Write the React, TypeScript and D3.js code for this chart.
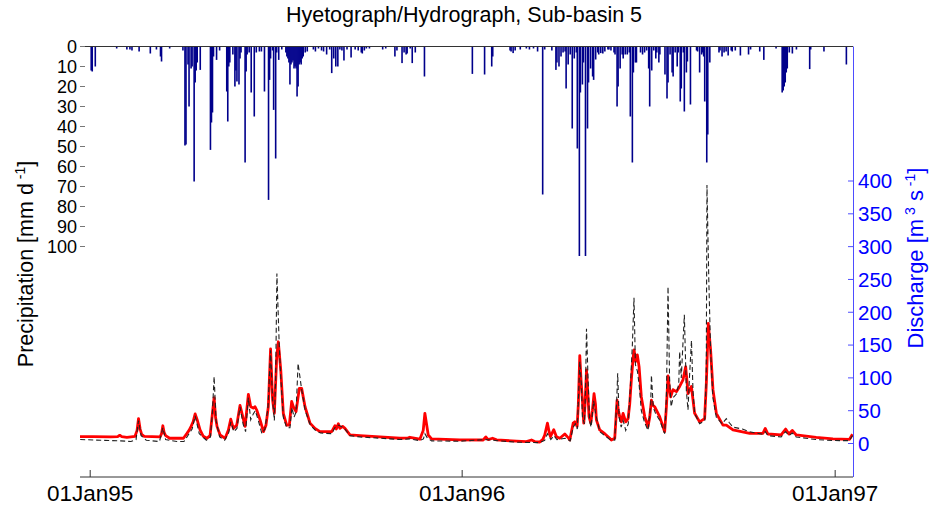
import React from "react";
import * as d3 from "d3";

// ---------- DATA (days since 01Jan95) ----------
const titleText = "Hyetograph/Hydrograph, Sub-basin 5";
const xTickDays = [0, 365, 731];
const xTickLabels = ["01Jan95", "01Jan96", "01Jan97"];
const precipTicks = [0, 10, 20, 30, 40, 50, 60, 70, 80, 90, 100];
const dischargeTicks = [0, 50, 100, 150, 200, 250, 300, 350, 400];

// daily precipitation [day, mm]
const precipEvents: [number, number][] = [
  [1, 12], [2, 12.5], [5, 10], [26, 1], [36, 1.5], [39, 1.5], [41, 2], [48, 2.5], [59, 3.5],
  [65, 1.5], [69, 5], [70, 7.5], [78, 1], [91, 2], [93, 49.5], [94, 49], [96, 9], [97, 30],
  [99, 11], [100, 10], [102, 67.5], [103, 18], [104, 12], [105, 8], [108, 11.7], [118, 51.7],
  [119, 38], [120, 33], [121, 5], [124, 6.7], [127, 2], [134, 22.5], [135, 37.5], [136, 10],
  [137, 8], [140, 4], [142, 20], [143, 12], [144, 17.5], [146, 19], [147, 6], [148, 3],
  [152, 58], [153, 12.5], [154, 4], [156, 3], [158, 23], [161, 35], [163, 3], [166, 2.5],
  [168, 2.5], [171, 22.5], [175, 76.7], [176, 16.7], [177, 6], [179, 2], [180, 31.7],
  [182, 56], [183, 3], [185, 6.7], [188, 1.5], [192, 3], [193, 5], [194, 6], [195, 8],
  [196, 19], [197, 9], [198, 8], [199, 7], [200, 11], [201, 10], [202, 11], [203, 25],
  [204, 20], [205, 9], [206, 8], [207, 9], [208, 6], [209, 5], [211, 3], [213, 2.5],
  [219, 1.5], [221, 2.5], [224, 1], [227, 2], [229, 2.5], [232, 4], [235, 1.5], [237, 13.3],
  [239, 6], [241, 10], [243, 10], [245, 1.5], [247, 2], [249, 7], [252, 1.5], [256, 5.5],
  [260, 1.5], [263, 2], [266, 3], [267, 3.5], [269, 2], [271, 1], [274, 1], [287, 1.5],
  [290, 1], [299, 5], [301, 2], [306, 8.3], [308, 3], [310, 4], [311, 3.5], [314, 1],
  [316, 8.3], [319, 3], [328, 15], [375, 13.7], [387, 14], [394, 10], [395, 5], [412, 2],
  [413, 2.5], [415, 3.3], [417, 2], [422, 1.5], [428, 1], [431, 1.5], [435, 1], [439, 2.5],
  [444, 74], [446, 1.5], [453, 2], [457, 11.7], [458, 8], [460, 10], [462, 5], [464, 3],
  [466, 2.5], [467, 21], [469, 9], [471, 4], [473, 41], [475, 6], [477, 3], [478, 51],
  [480, 105], [481, 23], [483, 19], [484, 8], [486, 105], [488, 41], [489, 18], [491, 11],
  [493, 15], [494, 16.7], [496, 6.5], [498, 3], [499, 4], [501, 3.3], [503, 3.5], [505, 2.5],
  [508, 1.5], [509, 1.5], [511, 2], [514, 3], [515, 4], [517, 30], [518, 20], [520, 11],
  [522, 4], [523, 6], [525, 4], [527, 4], [529, 3], [530, 35], [532, 58], [533, 13],
  [535, 8], [536, 8], [540, 3], [542, 4], [544, 3], [546, 2], [548, 11], [549, 30],
  [551, 12], [553, 2], [555, 6], [556, 3], [558, 8], [559, 4], [564, 14], [566, 26],
  [567, 18], [569, 4], [571, 13], [572, 15], [574, 3], [576, 10], [577, 3], [579, 27.5],
  [580, 21], [582, 3], [583, 32.5], [585, 13], [586, 7.5], [589, 29], [595, 2], [596, 2.5],
  [598, 13], [600, 4], [601, 3], [602, 5], [603, 27.5], [605, 58], [606, 44], [608, 8],
  [617, 3], [618, 2], [620, 5], [622, 3], [624, 2.5], [626, 4.5], [629, 2], [630, 2.5],
  [633, 2], [638, 4.5], [646, 4], [648, 1.5], [657, 2.5], [661, 6.7], [673, 1], [679, 23],
  [680, 22], [681, 20], [682, 18], [683, 13], [684, 11], [686, 3], [689, 3.5], [693, 1.5],
  [706, 11.3], [707, 1.5], [720, 2.5], [742, 9]
];

// simulated discharge [day, m3/s]
const simulatedQ: [number, number][] = [
  [-10, 10.4], [3, 10.4], [20, 10], [27, 10.5], [29, 12.5], [31, 10.5], [36, 9.5], [44, 11],
  [46, 20], [47.4, 38], [49, 22], [50.5, 14], [53, 11], [68.6, 10], [70, 15], [71.3, 27],
  [72.5, 17], [74, 12], [78, 8], [91.5, 8], [94.8, 15], [97, 20], [99, 26], [101, 33],
  [103, 45], [105.2, 35], [107.8, 20.6], [111, 11], [114.4, 7.9], [117.6, 12], [119.9, 45],
  [121.6, 70], [123, 40], [124.5, 25.7], [127.5, 13], [132.4, 7.9], [135.6, 20.6],
  [137.9, 37], [140.5, 23], [143.8, 28], [147, 58], [149.7, 41], [152, 26], [155.2, 75],
  [157.5, 56], [160, 54], [161.8, 56], [163.4, 51], [166.7, 36], [170, 18], [172.5, 28],
  [174.8, 56], [177, 144], [179, 66], [180.7, 46], [183, 132], [184.6, 155], [187, 112],
  [189.5, 46], [192.8, 28], [195.4, 28], [197.7, 64], [199.3, 56], [202, 48.5], [205.2, 84],
  [207.5, 84], [210.8, 56], [215.7, 31], [220.6, 23], [225.5, 18], [237, 18], [240.2, 27],
  [241.5, 22], [243.5, 30], [245, 23], [247.7, 26], [250, 23], [254.9, 13], [264.7, 11.9],
  [284.3, 10], [304, 8], [312, 8.5], [313.7, 9.5], [323.5, 6.5], [326.8, 20], [328.4, 46],
  [330, 30], [331.7, 13], [335, 7], [362.7, 5.5], [385.6, 5.3], [388.2, 10], [390.5, 6],
  [394.8, 8], [398.7, 5.5], [418.3, 3.5], [428, 2.8], [433, 5.3], [436.3, 3], [441.2, 2.3],
  [444.4, 7], [446, 13], [448.7, 31], [450.3, 18], [451.6, 10.4], [454.9, 21], [457.5, 10.4],
  [460.8, 7.9], [465.7, 14.5], [469, 9], [470.6, 5.3], [473.9, 31], [475.5, 33],
  [477.8, 26], [479, 60], [480.4, 134], [481.7, 95], [483, 66], [484.3, 31], [485.6, 60],
  [487, 112], [488.2, 80], [489.5, 41], [491.2, 31], [492.8, 50], [494.4, 76], [495.8, 60],
  [496.7, 36], [500, 20.6], [504.9, 15], [509.8, 7.9], [511.4, 5.3], [514.7, 7.9],
  [517, 66], [518.3, 50], [519.6, 41], [521.2, 33], [522.9, 46], [525.5, 33], [527.8, 38],
  [529.4, 60], [531, 97], [532.7, 130], [533.7, 142.5], [535.3, 125], [536.9, 135],
  [538.6, 117], [540.8, 71], [544.1, 41], [547.4, 26], [549, 40], [550.7, 66], [552.3, 58],
  [553.9, 56], [558.8, 41], [563.7, 18], [565.4, 56], [567, 103], [568.3, 85], [569.6, 71],
  [571.9, 82], [575.2, 79], [578.4, 87], [581.7, 97], [584.3, 117], [585.6, 95],
  [586.6, 76], [588.2, 82], [589.9, 87], [593.1, 46], [598, 33], [602.9, 38], [604.6, 92],
  [606.5, 183], [607.8, 160], [608.8, 142], [611.1, 82], [614.4, 46], [620.9, 28],
  [624.2, 28], [630.7, 20.6], [647.1, 15.5], [660.1, 15.5], [662.4, 23], [665, 14.5],
  [678, 13], [682.4, 22], [685.6, 14.5], [688.9, 20], [692.8, 13], [712.4, 9.4],
  [728.8, 7], [745.1, 6.4], [748, 14]
];

// observed discharge [day, m3/s]
const observedQ: [number, number][] = [
  [-9.8, 6], [10, 5], [30, 4], [40, 3], [45, 6], [47.4, 35], [50, 12], [55, 5], [68, 3],
  [71.3, 24], [74, 6], [85, 3], [92, 3], [95, 10], [100, 22], [103, 42], [107, 15],
  [114, 5], [118, 10], [120, 50], [121.6, 102], [123.5, 35], [127, 10], [132, 5], [136, 17],
  [138, 33], [141, 18], [144, 23], [147, 56], [150, 30], [152.5, 18], [155.2, 70],
  [157.5, 36], [160, 45], [162, 50], [165, 35], [168.5, 15], [171.5, 22], [174.5, 55],
  [177, 142], [179, 66], [180.7, 35], [182, 100], [183.2, 259], [185.5, 150], [187, 100],
  [189.5, 40], [192.8, 24], [196, 24], [198, 55], [200, 40], [202, 48], [204, 122],
  [207.5, 82], [211, 50], [216, 28], [221, 20], [226, 16], [237, 15], [240, 24],
  [243.5, 28], [247.7, 25], [250, 22], [255, 12], [264.7, 10], [285, 8], [304, 6], [313, 7],
  [323, 4.5], [327, 7], [328.4, 15], [331, 8], [335, 4], [363, 3.5], [388, 6], [395, 5],
  [418, 2], [441, 1.3], [446, 5], [448.7, 15], [452, 6], [455, 12], [458, 6], [466, 8],
  [471, 4], [474, 25], [476, 30], [478, 22], [480.4, 125], [482, 90], [483, 40], [485, 30],
  [486, 80], [487, 175], [488.5, 100], [490, 35], [491.5, 25], [494, 65], [496, 45],
  [500, 18], [505, 12], [510, 6], [514.7, 5], [516.5, 60], [517.6, 107], [519, 40],
  [521, 25], [523, 35], [525.5, 20], [528, 30], [530, 85], [532, 150], [533.6, 222],
  [535, 120], [537, 110], [538.6, 90], [540.8, 50], [544, 32], [547.4, 20], [550, 60],
  [550.7, 104], [552.5, 55], [555, 45], [559, 35], [563.7, 15], [565.4, 70], [567, 239],
  [568.5, 100], [570, 56], [572, 70], [575, 75], [577.5, 90], [578.4, 140], [580, 100],
  [583, 196], [585, 80], [586.6, 51], [588, 100], [590, 157], [591.5, 80], [593.1, 46],
  [598, 30], [603, 35], [604.5, 100], [605.2, 394], [607, 250], [608.8, 140], [611, 70],
  [614.4, 40], [620, 30], [624.2, 38], [627, 32], [630.7, 25], [640, 22], [647, 18],
  [660, 14], [662.4, 18], [665, 12], [678, 10], [682.4, 18], [685.6, 12], [688.9, 16],
  [692.8, 10], [712, 6], [729, 4.5], [745, 4.3], [748, 12]
];

// ---------- LAYOUT ----------
const W = 935;
const H = 509;
const left = 80;
const right = 853;
const top = 46.5;
const bottom = 477;
const FONT = "'Liberation Sans', Arial, Helvetica, sans-serif";

export default function App() {
  const x = d3.scaleLinear().domain([-10, 748.5]).range([left, right]);
  const yP = d3.scaleLinear().domain([0, 104.75]).range([top, 256]);
  const yQ = d3.scaleLinear().domain([0, 400]).range([443.5, 181]);

  const line = d3
    .line<[number, number]>()
    .x((d) => x(d[0]))
    .y((d) => yQ(d[1]));

  const pMax = yP.domain()[1];

  return (
    <div style={{ position: "absolute", left: 0, top: 0 }}>
      <svg width={W} height={H} style={{ display: "block", background: "#fff" }} fontFamily={FONT}>
        <rect x={0} y={0} width={W} height={H} fill="#fff" />
        {/* title */}
        <text x={464} y={22} textAnchor="middle" fontSize={21.5} fill="#000">
          {titleText}
        </text>

        {/* precipitation bars */}
        <g>
          {precipEvents.map(([d, v], i) => (
            <rect
              key={i}
              x={x(d) - 0.8}
              y={top}
              width={1.6}
              height={yP(Math.min(v, pMax)) - top}
              fill="#00008B"
            />
          ))}
        </g>

        {/* discharge lines */}
        <path d={line(simulatedQ) || ""} fill="none" stroke="#ff0000" strokeWidth={2.8} strokeLinejoin="round" />
        <path
          d={line(observedQ) || ""}
          fill="none"
          stroke="#222"
          strokeWidth={1.1}
          strokeDasharray="5,3"
        />

        {/* top (precip zero) axis line */}
        <line x1={left} x2={right} y1={top} y2={top} stroke="#333" strokeWidth={1} />
        {/* left precip ticks and labels */}
        {precipTicks.map((t) => (
          <g key={"p" + t}>
            <line x1={left} x2={left + 5} y1={yP(t)} y2={yP(t)} stroke="#777" strokeWidth={1} />
            <text x={left - 3} y={yP(t)} dy="0.36em" textAnchor="end" fontSize={18} fill="#000">
              {t}
            </text>
          </g>
        ))}

        {/* bottom axis */}
        <line x1={left} x2={right} y1={bottom} y2={bottom} stroke="#333" strokeWidth={1} />
        {xTickDays.map((d, i) => (
          <g key={"x" + d}>
            <line x1={x(d)} x2={x(d)} y1={bottom} y2={bottom - 7} stroke="#333" strokeWidth={1} />
            <text x={x(d)} y={501} textAnchor="middle" fontSize={22.5} fill="#000">
              {xTickLabels[i]}
            </text>
          </g>
        ))}

        {/* right discharge axis */}
        <line x1={right + 0.5} x2={right + 0.5} y1={top} y2={bottom} stroke="#4d4dff" strokeWidth={1} />
        {dischargeTicks.map((t) => (
          <g key={"q" + t}>
            <line x1={right - 5} x2={right} y1={yQ(t)} y2={yQ(t)} stroke="#4d4dff" strokeWidth={1} />
            <text x={right + 5} y={yQ(t)} dy="0.36em" textAnchor="start" fontSize={20.5} fill="#0000ff">
              {t}
            </text>
          </g>
        ))}

        {/* axis labels */}
        <text transform="translate(33,264) rotate(-90)" textAnchor="middle" fontSize={21.5} fill="#000">
          Precipitation [mm d
          <tspan dy={-8} fontSize={14}> -1</tspan>
          <tspan dy={8}>]</tspan>
        </text>
        <text transform="translate(923,258) rotate(-90)" textAnchor="middle" fontSize={22} fill="#0000ff">
          Discharge [m
          <tspan dy={-8} fontSize={14}> 3</tspan>
          <tspan dy={8}> s</tspan>
          <tspan dy={-8} fontSize={14}> -1</tspan>
          <tspan dy={8}>]</tspan>
        </text>
      </svg>
    </div>
  );
}
